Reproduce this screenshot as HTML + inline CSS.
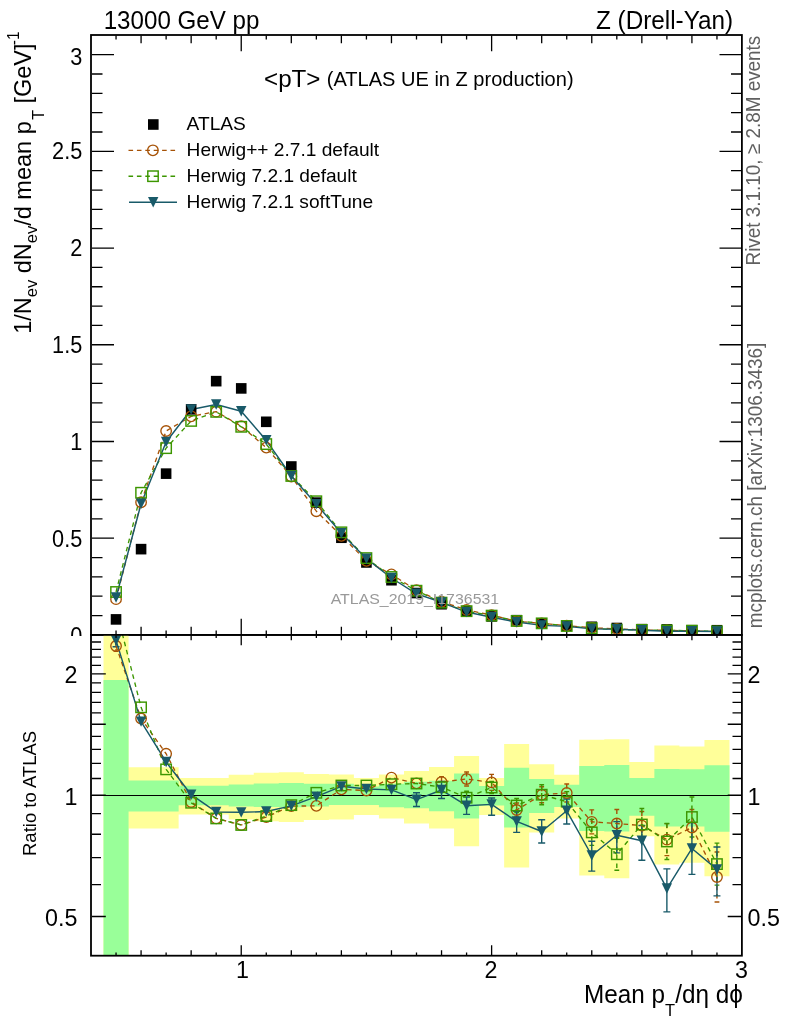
<!DOCTYPE html>
<html><head><meta charset="utf-8"><title>plot</title>
<style>html,body{margin:0;padding:0;background:#fff;overflow:hidden}svg{display:block}</style>
</head><body>
<svg width="786" height="1024" viewBox="0 0 786 1024" font-family="Liberation Sans, Arial, Helvetica, sans-serif">
<rect x="0" y="0" width="786" height="1024" fill="#fff"/>
<defs><clipPath id="cu"><rect x="91" y="35" width="651" height="599.9"/></clipPath><clipPath id="cl"><rect x="91" y="634.9" width="651" height="320.8"/></clipPath></defs>
<path d="M92,615.56h10.5M741.5,615.56h-10.5 M92,596.22h10.5M741.5,596.22h-10.5 M92,576.87h10.5M741.5,576.87h-10.5 M92,557.53h10.5M741.5,557.53h-10.5 M92,538.19h22M741.5,538.19h-22 M92,518.85h10.5M741.5,518.85h-10.5 M92,499.51h10.5M741.5,499.51h-10.5 M92,480.16h10.5M741.5,480.16h-10.5 M92,460.82h10.5M741.5,460.82h-10.5 M92,441.48h22M741.5,441.48h-22 M92,422.14h10.5M741.5,422.14h-10.5 M92,402.80h10.5M741.5,402.80h-10.5 M92,383.45h10.5M741.5,383.45h-10.5 M92,364.11h10.5M741.5,364.11h-10.5 M92,344.77h22M741.5,344.77h-22 M92,325.43h10.5M741.5,325.43h-10.5 M92,306.09h10.5M741.5,306.09h-10.5 M92,286.74h10.5M741.5,286.74h-10.5 M92,267.40h10.5M741.5,267.40h-10.5 M92,248.06h22M741.5,248.06h-22 M92,228.72h10.5M741.5,228.72h-10.5 M92,209.38h10.5M741.5,209.38h-10.5 M92,190.03h10.5M741.5,190.03h-10.5 M92,170.69h10.5M741.5,170.69h-10.5 M92,151.35h22M741.5,151.35h-22 M92,132.01h10.5M741.5,132.01h-10.5 M92,112.67h10.5M741.5,112.67h-10.5 M92,93.32h10.5M741.5,93.32h-10.5 M92,73.98h10.5M741.5,73.98h-10.5 M92,54.64h22M741.5,54.64h-22 M116.04,35.5v4.0M116.04,634.5v-4.0 M141.08,35.5v7.8M141.08,634.5v-7.8 M166.12,35.5v4.0M166.12,634.5v-4.0 M191.15,35.5v7.8M191.15,634.5v-7.8 M216.19,35.5v4.0M216.19,634.5v-4.0 M241.23,35.5v15.8M241.23,634.5v-15.8 M266.27,35.5v4.0M266.27,634.5v-4.0 M291.31,35.5v7.8M291.31,634.5v-7.8 M316.35,35.5v4.0M316.35,634.5v-4.0 M341.38,35.5v7.8M341.38,634.5v-7.8 M366.42,35.5v4.0M366.42,634.5v-4.0 M391.46,35.5v7.8M391.46,634.5v-7.8 M416.50,35.5v4.0M416.50,634.5v-4.0 M441.54,35.5v7.8M441.54,634.5v-7.8 M466.58,35.5v4.0M466.58,634.5v-4.0 M491.62,35.5v15.8M491.62,634.5v-15.8 M516.65,35.5v4.0M516.65,634.5v-4.0 M541.69,35.5v7.8M541.69,634.5v-7.8 M566.73,35.5v4.0M566.73,634.5v-4.0 M591.77,35.5v7.8M591.77,634.5v-7.8 M616.81,35.5v4.0M616.81,634.5v-4.0 M641.85,35.5v7.8M641.85,634.5v-7.8 M666.88,35.5v4.0M666.88,634.5v-4.0 M691.92,35.5v7.8M691.92,634.5v-7.8 M716.96,35.5v4.0M716.96,634.5v-4.0" stroke="#000" stroke-width="1.3" fill="none"/>
<g clip-path="url(#cu)">
<path d="M116.04,599.15 L141.08,502.22 L166.12,430.97 L191.15,416.30 L216.19,411.66 L241.23,426.15 L266.27,447.58 L291.31,476.54 L316.35,511.20 L341.38,535.82 L366.42,560.80 L391.46,574.43 L416.50,590.21 L441.54,601.69 L466.58,609.90 L491.62,615.06 L516.65,621.29 L541.69,623.35 L566.73,625.58 L591.77,627.79 L616.81,628.87 L641.85,629.92 L666.88,630.40 L691.92,630.84 L716.96,631.60" fill="none" stroke="#a65206" stroke-width="1.35" stroke-dasharray="4.6 3.8" stroke-linejoin="round"/>
<path d="M116.04,592.00 L141.08,492.76 L166.12,448.16 L191.15,420.93 L216.19,411.86 L241.23,426.80 L266.27,444.10 L291.31,475.96 L316.35,501.25 L341.38,532.34 L366.42,558.10 L391.46,577.00 L416.50,590.71 L441.54,602.62 L466.58,611.19 L491.62,615.60 L516.65,620.96 L541.69,623.35 L566.73,625.98 L591.77,628.14 L616.81,629.68 L641.85,629.89 L666.88,630.44 L691.92,630.66 L716.96,631.42" fill="none" stroke="#3c9600" stroke-width="1.35" stroke-dasharray="4.6 3.8" stroke-linejoin="round"/>
<path d="M116.04,597.50 L141.08,503.76 L166.12,441.98 L191.15,409.54 L216.19,404.52 L241.23,411.28 L266.27,440.30 L291.31,475.96 L316.35,504.15 L341.38,533.21 L366.42,558.70 L391.46,578.00 L416.50,593.80 L441.54,602.43 L466.58,612.08 L491.62,617.28 L516.65,622.08 L541.69,625.35 L566.73,626.38 L591.77,628.86 L616.81,629.19 L641.85,630.25 L666.88,631.25 L691.92,631.19 L716.96,631.49" fill="none" stroke="#195a69" stroke-width="1.45" stroke-linejoin="round"/>
<rect x="110.74" y="614.10" width="10.6" height="10.6" fill="#000"/>
<rect x="135.78" y="543.84" width="10.6" height="10.6" fill="#000"/>
<rect x="160.82" y="468.34" width="10.6" height="10.6" fill="#000"/>
<rect x="185.85" y="404.05" width="10.6" height="10.6" fill="#000"/>
<rect x="210.89" y="375.86" width="10.6" height="10.6" fill="#000"/>
<rect x="235.93" y="383.10" width="10.6" height="10.6" fill="#000"/>
<rect x="260.97" y="416.50" width="10.6" height="10.6" fill="#000"/>
<rect x="286.01" y="461.20" width="10.6" height="10.6" fill="#000"/>
<rect x="311.05" y="497.31" width="10.6" height="10.6" fill="#000"/>
<rect x="336.08" y="532.45" width="10.6" height="10.6" fill="#000"/>
<rect x="361.12" y="557.16" width="10.6" height="10.6" fill="#000"/>
<rect x="386.16" y="574.92" width="10.6" height="10.6" fill="#000"/>
<rect x="411.20" y="587.74" width="10.6" height="10.6" fill="#000"/>
<rect x="436.24" y="598.94" width="10.6" height="10.6" fill="#000"/>
<rect x="461.28" y="605.82" width="10.6" height="10.6" fill="#000"/>
<rect x="486.32" y="611.11" width="10.6" height="10.6" fill="#000"/>
<rect x="511.35" y="614.89" width="10.6" height="10.6" fill="#000"/>
<rect x="536.39" y="618.10" width="10.6" height="10.6" fill="#000"/>
<rect x="561.43" y="620.39" width="10.6" height="10.6" fill="#000"/>
<rect x="586.47" y="621.49" width="10.6" height="10.6" fill="#000"/>
<rect x="611.51" y="622.69" width="10.6" height="10.6" fill="#000"/>
<rect x="636.55" y="623.87" width="10.6" height="10.6" fill="#000"/>
<rect x="661.58" y="624.10" width="10.6" height="10.6" fill="#000"/>
<rect x="686.62" y="624.93" width="10.6" height="10.6" fill="#000"/>
<rect x="711.66" y="624.93" width="10.6" height="10.6" fill="#000"/>
<circle cx="116.04" cy="599.15" r="5.25" fill="none" stroke="#a65206" stroke-width="1.35"/>
<circle cx="141.08" cy="502.22" r="5.25" fill="none" stroke="#a65206" stroke-width="1.35"/>
<circle cx="166.12" cy="430.97" r="5.25" fill="none" stroke="#a65206" stroke-width="1.35"/>
<circle cx="191.15" cy="416.30" r="5.25" fill="none" stroke="#a65206" stroke-width="1.35"/>
<circle cx="216.19" cy="411.66" r="5.25" fill="none" stroke="#a65206" stroke-width="1.35"/>
<circle cx="241.23" cy="426.15" r="5.25" fill="none" stroke="#a65206" stroke-width="1.35"/>
<circle cx="266.27" cy="447.58" r="5.25" fill="none" stroke="#a65206" stroke-width="1.35"/>
<circle cx="291.31" cy="476.54" r="5.25" fill="none" stroke="#a65206" stroke-width="1.35"/>
<circle cx="316.35" cy="511.20" r="5.25" fill="none" stroke="#a65206" stroke-width="1.35"/>
<circle cx="341.38" cy="535.82" r="5.25" fill="none" stroke="#a65206" stroke-width="1.35"/>
<circle cx="366.42" cy="560.80" r="5.25" fill="none" stroke="#a65206" stroke-width="1.35"/>
<circle cx="391.46" cy="574.43" r="5.25" fill="none" stroke="#a65206" stroke-width="1.35"/>
<circle cx="416.50" cy="590.21" r="5.25" fill="none" stroke="#a65206" stroke-width="1.35"/>
<circle cx="441.54" cy="601.69" r="5.25" fill="none" stroke="#a65206" stroke-width="1.35"/>
<circle cx="466.58" cy="609.90" r="5.25" fill="none" stroke="#a65206" stroke-width="1.35"/>
<circle cx="491.62" cy="615.06" r="5.25" fill="none" stroke="#a65206" stroke-width="1.35"/>
<circle cx="516.65" cy="621.29" r="5.25" fill="none" stroke="#a65206" stroke-width="1.35"/>
<circle cx="541.69" cy="623.35" r="5.25" fill="none" stroke="#a65206" stroke-width="1.35"/>
<circle cx="566.73" cy="625.58" r="5.25" fill="none" stroke="#a65206" stroke-width="1.35"/>
<circle cx="591.77" cy="627.79" r="5.25" fill="none" stroke="#a65206" stroke-width="1.35"/>
<circle cx="616.81" cy="628.87" r="5.25" fill="none" stroke="#a65206" stroke-width="1.35"/>
<circle cx="641.85" cy="629.92" r="5.25" fill="none" stroke="#a65206" stroke-width="1.35"/>
<circle cx="666.88" cy="630.40" r="5.25" fill="none" stroke="#a65206" stroke-width="1.35"/>
<circle cx="691.92" cy="630.84" r="5.25" fill="none" stroke="#a65206" stroke-width="1.35"/>
<circle cx="716.96" cy="631.60" r="5.25" fill="none" stroke="#a65206" stroke-width="1.35"/>
<rect x="110.84" y="586.80" width="10.4" height="10.4" fill="none" stroke="#3c9600" stroke-width="1.45"/>
<rect x="135.88" y="487.56" width="10.4" height="10.4" fill="none" stroke="#3c9600" stroke-width="1.45"/>
<rect x="160.92" y="442.96" width="10.4" height="10.4" fill="none" stroke="#3c9600" stroke-width="1.45"/>
<rect x="185.95" y="415.73" width="10.4" height="10.4" fill="none" stroke="#3c9600" stroke-width="1.45"/>
<rect x="210.99" y="406.66" width="10.4" height="10.4" fill="none" stroke="#3c9600" stroke-width="1.45"/>
<rect x="236.03" y="421.60" width="10.4" height="10.4" fill="none" stroke="#3c9600" stroke-width="1.45"/>
<rect x="261.07" y="438.90" width="10.4" height="10.4" fill="none" stroke="#3c9600" stroke-width="1.45"/>
<rect x="286.11" y="470.76" width="10.4" height="10.4" fill="none" stroke="#3c9600" stroke-width="1.45"/>
<rect x="311.15" y="496.05" width="10.4" height="10.4" fill="none" stroke="#3c9600" stroke-width="1.45"/>
<rect x="336.18" y="527.14" width="10.4" height="10.4" fill="none" stroke="#3c9600" stroke-width="1.45"/>
<rect x="361.22" y="552.90" width="10.4" height="10.4" fill="none" stroke="#3c9600" stroke-width="1.45"/>
<rect x="386.26" y="571.80" width="10.4" height="10.4" fill="none" stroke="#3c9600" stroke-width="1.45"/>
<rect x="411.30" y="585.51" width="10.4" height="10.4" fill="none" stroke="#3c9600" stroke-width="1.45"/>
<rect x="436.34" y="597.42" width="10.4" height="10.4" fill="none" stroke="#3c9600" stroke-width="1.45"/>
<rect x="461.38" y="605.99" width="10.4" height="10.4" fill="none" stroke="#3c9600" stroke-width="1.45"/>
<rect x="486.42" y="610.40" width="10.4" height="10.4" fill="none" stroke="#3c9600" stroke-width="1.45"/>
<rect x="511.45" y="615.76" width="10.4" height="10.4" fill="none" stroke="#3c9600" stroke-width="1.45"/>
<rect x="536.49" y="618.15" width="10.4" height="10.4" fill="none" stroke="#3c9600" stroke-width="1.45"/>
<rect x="561.53" y="620.78" width="10.4" height="10.4" fill="none" stroke="#3c9600" stroke-width="1.45"/>
<rect x="586.57" y="622.94" width="10.4" height="10.4" fill="none" stroke="#3c9600" stroke-width="1.45"/>
<rect x="611.61" y="624.48" width="10.4" height="10.4" fill="none" stroke="#3c9600" stroke-width="1.45"/>
<rect x="636.65" y="624.69" width="10.4" height="10.4" fill="none" stroke="#3c9600" stroke-width="1.45"/>
<rect x="661.68" y="625.24" width="10.4" height="10.4" fill="none" stroke="#3c9600" stroke-width="1.45"/>
<rect x="686.72" y="625.46" width="10.4" height="10.4" fill="none" stroke="#3c9600" stroke-width="1.45"/>
<rect x="711.76" y="626.22" width="10.4" height="10.4" fill="none" stroke="#3c9600" stroke-width="1.45"/>
<path d="M110.84,592.30H121.24L116.04,602.70Z" fill="#195a69"/>
<path d="M135.88,498.56H146.28L141.08,508.96Z" fill="#195a69"/>
<path d="M160.92,436.78H171.32L166.12,447.18Z" fill="#195a69"/>
<path d="M185.95,404.34H196.35L191.15,414.74Z" fill="#195a69"/>
<path d="M210.99,399.32H221.39L216.19,409.72Z" fill="#195a69"/>
<path d="M236.03,406.08H246.43L241.23,416.48Z" fill="#195a69"/>
<path d="M261.07,435.10H271.47L266.27,445.50Z" fill="#195a69"/>
<path d="M286.11,470.76H296.51L291.31,481.16Z" fill="#195a69"/>
<path d="M311.15,498.95H321.55L316.35,509.35Z" fill="#195a69"/>
<path d="M336.18,528.01H346.58L341.38,538.41Z" fill="#195a69"/>
<path d="M361.22,553.50H371.62L366.42,563.90Z" fill="#195a69"/>
<path d="M386.26,572.80H396.66L391.46,583.20Z" fill="#195a69"/>
<path d="M411.30,588.60H421.70L416.50,599.00Z" fill="#195a69"/>
<path d="M436.34,597.23H446.74L441.54,607.63Z" fill="#195a69"/>
<path d="M461.38,606.88H471.78L466.58,617.28Z" fill="#195a69"/>
<path d="M486.42,612.08H496.82L491.62,622.48Z" fill="#195a69"/>
<path d="M511.45,616.88H521.85L516.65,627.28Z" fill="#195a69"/>
<path d="M536.49,620.15H546.89L541.69,630.55Z" fill="#195a69"/>
<path d="M561.53,621.18H571.93L566.73,631.58Z" fill="#195a69"/>
<path d="M586.57,623.66H596.97L591.77,634.06Z" fill="#195a69"/>
<path d="M611.61,623.99H622.01L616.81,634.39Z" fill="#195a69"/>
<path d="M636.65,625.05H647.05L641.85,635.45Z" fill="#195a69"/>
<path d="M661.68,626.05H672.08L666.88,636.45Z" fill="#195a69"/>
<path d="M686.72,625.99H697.12L691.92,636.39Z" fill="#195a69"/>
<path d="M711.76,626.29H722.16L716.96,636.69Z" fill="#195a69"/>
</g>
<text transform="translate(414.90,604.00) scale(1,0.97)" font-size="15.9" text-anchor="middle" fill="#999">ATLAS_2019_I1736531</text>
<rect x="91" y="35" width="650.9" height="599.9" fill="none" stroke="#000" stroke-width="1.8"/>
<text transform="translate(82.30,64.50) scale(1,1.06)" font-size="21.7" text-anchor="end">3</text>
<text transform="translate(82.30,159.30) scale(1,1.06)" font-size="21.7" text-anchor="end">2.5</text>
<text transform="translate(82.30,255.70) scale(1,1.06)" font-size="21.7" text-anchor="end">2</text>
<text transform="translate(82.30,353.10) scale(1,1.06)" font-size="21.7" text-anchor="end">1.5</text>
<text transform="translate(82.30,449.70) scale(1,1.06)" font-size="21.7" text-anchor="end">1</text>
<text transform="translate(82.30,547.40) scale(1,1.06)" font-size="21.7" text-anchor="end">0.5</text>
<text transform="translate(82.30,644.40) scale(1,1.06)" font-size="21.7" text-anchor="end">0</text>
<rect x="0" y="636" width="786" height="388" fill="#fff"/>
<g clip-path="url(#cl)">
<path d="M103.52,600.00 L128.56,600.00 L128.56,767.30 L153.60,767.30 L153.60,767.30 L178.63,767.30 L178.63,778.00 L203.67,778.00 L203.67,778.00 L228.71,778.00 L228.71,774.80 L253.75,774.80 L253.75,772.80 L278.79,772.80 L278.79,772.30 L303.83,772.30 L303.83,774.00 L328.87,774.00 L328.87,774.60 L353.90,774.60 L353.90,778.00 L378.94,778.00 L378.94,774.60 L403.98,774.60 L403.98,771.00 L429.02,771.00 L429.02,766.90 L454.06,766.90 L454.06,755.90 L479.10,755.90 L479.10,778.00 L504.13,778.00 L504.13,744.10 L529.17,744.10 L529.17,764.30 L554.21,764.30 L554.21,774.80 L579.25,774.80 L579.25,739.80 L604.29,739.80 L604.29,739.20 L629.33,739.20 L629.33,762.00 L654.37,762.00 L654.37,745.40 L679.40,745.40 L679.40,746.40 L704.44,746.40 L704.44,740.10 L729.48,740.10 L729.48,876.30 L704.44,876.30 L704.44,862.70 L679.40,862.70 L679.40,864.60 L654.37,864.60 L654.37,836.30 L629.33,836.30 L629.33,878.30 L604.29,878.30 L604.29,875.50 L579.25,875.50 L579.25,818.40 L554.21,818.40 L554.21,832.40 L529.17,832.40 L529.17,867.60 L504.13,867.60 L504.13,815.00 L479.10,815.00 L479.10,846.30 L454.06,846.30 L454.06,828.50 L429.02,828.50 L429.02,823.50 L403.98,823.50 L403.98,818.40 L378.94,818.40 L378.94,815.00 L353.90,815.00 L353.90,819.40 L328.87,819.40 L328.87,820.00 L303.83,820.00 L303.83,822.00 L278.79,822.00 L278.79,821.30 L253.75,821.30 L253.75,819.50 L228.71,819.50 L228.71,814.50 L203.67,814.50 L203.67,814.50 L178.63,814.50 L178.63,828.40 L153.60,828.40 L153.60,828.40 L128.56,828.40 L128.56,1000.00 L103.52,1000.00Z" fill="#ffff99"/>
<path d="M103.52,679.90 L128.56,679.90 L128.56,780.60 L153.60,780.60 L153.60,780.60 L178.63,780.60 L178.63,785.80 L203.67,785.80 L203.67,785.80 L228.71,785.80 L228.71,784.50 L253.75,784.50 L253.75,783.50 L278.79,783.50 L278.79,783.00 L303.83,783.00 L303.83,783.70 L328.87,783.70 L328.87,783.80 L353.90,783.80 L353.90,786.50 L378.94,786.50 L378.94,783.80 L403.98,783.80 L403.98,781.70 L429.02,781.70 L429.02,780.70 L454.06,780.70 L454.06,773.60 L479.10,773.60 L479.10,785.90 L504.13,785.90 L504.13,767.80 L529.17,767.80 L529.17,778.90 L554.21,778.90 L554.21,784.70 L579.25,784.70 L579.25,766.00 L604.29,766.00 L604.29,765.00 L629.33,765.00 L629.33,778.00 L654.37,778.00 L654.37,768.90 L679.40,768.90 L679.40,769.20 L704.44,769.20 L704.44,765.30 L729.48,765.30 L729.48,831.80 L704.44,831.80 L704.44,826.50 L679.40,826.50 L679.40,826.50 L654.37,826.50 L654.37,815.80 L629.33,815.80 L629.33,831.40 L604.29,831.40 L604.29,831.00 L579.25,831.00 L579.25,807.00 L554.21,807.00 L554.21,813.10 L529.17,813.10 L529.17,827.50 L504.13,827.50 L504.13,805.40 L479.10,805.40 L479.10,818.50 L454.06,818.50 L454.06,811.20 L429.02,811.20 L429.02,808.20 L403.98,808.20 L403.98,807.20 L378.94,807.20 L378.94,805.10 L353.90,805.10 L353.90,805.10 L328.87,805.10 L328.87,806.50 L303.83,806.50 L303.83,807.30 L278.79,807.30 L278.79,807.00 L253.75,807.00 L253.75,806.60 L228.71,806.60 L228.71,805.20 L203.67,805.20 L203.67,805.20 L178.63,805.20 L178.63,811.50 L153.60,811.50 L153.60,811.50 L128.56,811.50 L128.56,1000.00 L103.52,1000.00Z" fill="#99ff99"/>
<path d="M91,795.5H742" stroke="#000" stroke-width="1.15"/>
<path d="M116.04,640.56V651.36" stroke="#a65206" stroke-width="1.4" fill="none" stroke-dasharray="4.6 3.8"/><path d="M113.64,640.56h4.8M113.64,651.36h4.8" stroke="#a65206" stroke-width="1.4" fill="none"/>












<path d="M441.54,776.66V787.46" stroke="#a65206" stroke-width="1.4" fill="none" stroke-dasharray="4.6 3.8"/><path d="M439.14,776.66h4.8M439.14,787.46h4.8" stroke="#a65206" stroke-width="1.4" fill="none"/>
<path d="M466.58,772.00V786.00" stroke="#a65206" stroke-width="1.4" fill="none" stroke-dasharray="4.6 3.8"/><path d="M464.18,772.00h4.8M464.18,786.00h4.8" stroke="#a65206" stroke-width="1.4" fill="none"/>
<path d="M491.62,774.39V790.39" stroke="#a65206" stroke-width="1.4" fill="none" stroke-dasharray="4.6 3.8"/><path d="M489.22,774.39h4.8M489.22,790.39h4.8" stroke="#a65206" stroke-width="1.4" fill="none"/>
<path d="M516.65,803.03V817.03" stroke="#a65206" stroke-width="1.4" fill="none" stroke-dasharray="4.6 3.8"/><path d="M514.25,803.03h4.8M514.25,817.03h4.8" stroke="#a65206" stroke-width="1.4" fill="none"/>
<path d="M541.69,786.70V802.70" stroke="#a65206" stroke-width="1.4" fill="none" stroke-dasharray="4.6 3.8"/><path d="M539.29,786.70h4.8M539.29,802.70h4.8" stroke="#a65206" stroke-width="1.4" fill="none"/>
<path d="M566.73,783.96V801.96" stroke="#a65206" stroke-width="1.4" fill="none" stroke-dasharray="4.6 3.8"/><path d="M564.33,783.96h4.8M564.33,801.96h4.8" stroke="#a65206" stroke-width="1.4" fill="none"/>
<path d="M591.77,809.86V833.86" stroke="#a65206" stroke-width="1.4" fill="none" stroke-dasharray="4.6 3.8"/><path d="M589.37,809.86h4.8M589.37,833.86h4.8" stroke="#a65206" stroke-width="1.4" fill="none"/>
<path d="M616.81,809.50V837.50" stroke="#a65206" stroke-width="1.4" fill="none" stroke-dasharray="4.6 3.8"/><path d="M614.41,809.50h4.8M614.41,837.50h4.8" stroke="#a65206" stroke-width="1.4" fill="none"/>
<path d="M641.85,811.57V839.57" stroke="#a65206" stroke-width="1.4" fill="none" stroke-dasharray="4.6 3.8"/><path d="M639.45,811.57h4.8M639.45,839.57h4.8" stroke="#a65206" stroke-width="1.4" fill="none"/>
<path d="M666.88,823.66V855.66" stroke="#a65206" stroke-width="1.4" fill="none" stroke-dasharray="4.6 3.8"/><path d="M664.48,823.66h4.8M664.48,855.66h4.8" stroke="#a65206" stroke-width="1.4" fill="none"/>
<path d="M691.92,809.46V845.46" stroke="#a65206" stroke-width="1.4" fill="none" stroke-dasharray="4.6 3.8"/><path d="M689.52,809.46h4.8M689.52,845.46h4.8" stroke="#a65206" stroke-width="1.4" fill="none"/>
<path d="M716.96,852.01V902.01" stroke="#a65206" stroke-width="1.4" fill="none" stroke-dasharray="4.6 3.8"/><path d="M714.56,852.01h4.8M714.56,902.01h4.8" stroke="#a65206" stroke-width="1.4" fill="none"/>














<path d="M466.58,791.30V804.10" stroke="#3c9600" stroke-width="1.4" fill="none" stroke-dasharray="4.6 3.8"/><path d="M464.18,791.30h4.8M464.18,804.10h4.8" stroke="#3c9600" stroke-width="1.4" fill="none"/>
<path d="M491.62,781.51V793.51" stroke="#3c9600" stroke-width="1.4" fill="none" stroke-dasharray="4.6 3.8"/><path d="M489.22,781.51h4.8M489.22,793.51h4.8" stroke="#3c9600" stroke-width="1.4" fill="none"/>
<path d="M516.65,798.51V812.51" stroke="#3c9600" stroke-width="1.4" fill="none" stroke-dasharray="4.6 3.8"/><path d="M514.25,798.51h4.8M514.25,812.51h4.8" stroke="#3c9600" stroke-width="1.4" fill="none"/>
<path d="M541.69,784.70V804.70" stroke="#3c9600" stroke-width="1.4" fill="none" stroke-dasharray="4.6 3.8"/><path d="M539.29,784.70h4.8M539.29,804.70h4.8" stroke="#3c9600" stroke-width="1.4" fill="none"/>
<path d="M566.73,791.65V811.65" stroke="#3c9600" stroke-width="1.4" fill="none" stroke-dasharray="4.6 3.8"/><path d="M564.33,791.65h4.8M564.33,811.65h4.8" stroke="#3c9600" stroke-width="1.4" fill="none"/>
<path d="M591.77,819.37V845.37" stroke="#3c9600" stroke-width="1.4" fill="none" stroke-dasharray="4.6 3.8"/><path d="M589.37,819.37h4.8M589.37,845.37h4.8" stroke="#3c9600" stroke-width="1.4" fill="none"/>
<path d="M616.81,838.25V870.25" stroke="#3c9600" stroke-width="1.4" fill="none" stroke-dasharray="4.6 3.8"/><path d="M614.41,838.25h4.8M614.41,870.25h4.8" stroke="#3c9600" stroke-width="1.4" fill="none"/>
<path d="M641.85,808.53V840.53" stroke="#3c9600" stroke-width="1.4" fill="none" stroke-dasharray="4.6 3.8"/><path d="M639.45,808.53h4.8M639.45,840.53h4.8" stroke="#3c9600" stroke-width="1.4" fill="none"/>
<path d="M666.88,823.48V859.48" stroke="#3c9600" stroke-width="1.4" fill="none" stroke-dasharray="4.6 3.8"/><path d="M664.48,823.48h4.8M664.48,859.48h4.8" stroke="#3c9600" stroke-width="1.4" fill="none"/>
<path d="M691.92,797.03V837.03" stroke="#3c9600" stroke-width="1.4" fill="none" stroke-dasharray="4.6 3.8"/><path d="M689.52,797.03h4.8M689.52,837.03h4.8" stroke="#3c9600" stroke-width="1.4" fill="none"/>
<path d="M716.96,843.09V885.09" stroke="#3c9600" stroke-width="1.4" fill="none" stroke-dasharray="4.6 3.8"/><path d="M714.56,843.09h4.8M714.56,885.09h4.8" stroke="#3c9600" stroke-width="1.4" fill="none"/>
<path d="M116.04,633.80V646.80M112.54,633.80h7M112.54,646.80h7" stroke="#195a69" stroke-width="1.4" fill="none"/>
<path d="M416.50,792.70V806.50M413.00,792.70h7M413.00,806.50h7" stroke="#195a69" stroke-width="1.4" fill="none"/>
<path d="M441.54,781.50V798.50M438.04,781.50h7M438.04,798.50h7" stroke="#195a69" stroke-width="1.4" fill="none"/>
<path d="M466.58,797.00V814.40M463.08,797.00h7M463.08,814.40h7" stroke="#195a69" stroke-width="1.4" fill="none"/>
<path d="M491.62,798.00V815.30M488.12,798.00h7M488.12,815.30h7" stroke="#195a69" stroke-width="1.4" fill="none"/>
<path d="M516.65,811.40V832.40M513.15,811.40h7M513.15,832.40h7" stroke="#195a69" stroke-width="1.4" fill="none"/>
<path d="M541.69,819.80V843.00M538.19,819.80h7M538.19,843.00h7" stroke="#195a69" stroke-width="1.4" fill="none"/>
<path d="M566.73,799.00V824.00M563.23,799.00h7M563.23,824.00h7" stroke="#195a69" stroke-width="1.4" fill="none"/>
<path d="M591.77,841.20V871.10M588.27,841.20h7M588.27,871.10h7" stroke="#195a69" stroke-width="1.4" fill="none"/>
<path d="M616.81,821.60V852.90M613.31,821.60h7M613.31,852.90h7" stroke="#195a69" stroke-width="1.4" fill="none"/>
<path d="M641.85,825.50V860.30M638.35,825.50h7M638.35,860.30h7" stroke="#195a69" stroke-width="1.4" fill="none"/>
<path d="M666.88,868.90V911.90M663.38,868.90h7M663.38,911.90h7" stroke="#195a69" stroke-width="1.4" fill="none"/>
<path d="M691.92,822.60V874.40M688.42,822.60h7M688.42,874.40h7" stroke="#195a69" stroke-width="1.4" fill="none"/>
<path d="M716.96,847.00V895.90M713.46,847.00h7M713.46,895.90h7" stroke="#195a69" stroke-width="1.4" fill="none"/>
<path d="M116.04,645.96 L141.08,718.52 L166.12,753.75 L191.15,802.01 L216.19,818.43 L241.23,824.95 L266.27,817.03 L291.31,806.07 L316.35,805.88 L341.38,789.36 L366.42,790.56 L391.46,777.57 L416.50,783.37 L441.54,782.06 L466.58,779.00 L491.62,782.39 L516.65,810.03 L541.69,794.70 L566.73,792.96 L591.77,821.86 L616.81,823.50 L641.85,825.57 L666.88,839.66 L691.92,827.46 L716.96,877.01" fill="none" stroke="#a65206" stroke-width="1.35" stroke-dasharray="4.6 3.8" stroke-linejoin="round"/>
<path d="M116.04,609.22 L141.08,707.34 L166.12,769.36 L191.15,802.74 L216.19,818.43 L241.23,824.95 L266.27,816.04 L291.31,805.14 L316.35,792.79 L341.38,785.51 L366.42,785.51 L391.46,784.19 L416.50,783.53 L441.54,787.18 L466.58,797.70 L491.62,787.51 L516.65,805.51 L541.69,794.70 L566.73,801.65 L591.77,832.37 L616.81,854.25 L641.85,824.53 L666.88,841.48 L691.92,817.03 L716.96,864.09" fill="none" stroke="#3c9600" stroke-width="1.35" stroke-dasharray="4.6 3.8" stroke-linejoin="round"/>
<path d="M116.04,640.36 L141.08,721.60 L166.12,761.96 L191.15,794.70 L216.19,811.95 L241.23,812.33 L266.27,811.56 L291.31,805.88 L316.35,796.63 L341.38,786.34 L366.42,789.03 L391.46,789.87 L416.50,799.66 L441.54,790.04 L466.58,805.70 L491.62,804.40 L516.65,821.45 L541.69,831.50 L566.73,810.79 L591.77,855.48 L616.81,835.21 L641.85,840.80 L666.88,888.56 L691.92,848.46 L716.96,869.36" fill="none" stroke="#195a69" stroke-width="1.45" stroke-linejoin="round"/>
<circle cx="116.04" cy="645.96" r="5.25" fill="none" stroke="#a65206" stroke-width="1.35"/>
<circle cx="141.08" cy="718.52" r="5.25" fill="none" stroke="#a65206" stroke-width="1.35"/>
<circle cx="166.12" cy="753.75" r="5.25" fill="none" stroke="#a65206" stroke-width="1.35"/>
<circle cx="191.15" cy="802.01" r="5.25" fill="none" stroke="#a65206" stroke-width="1.35"/>
<circle cx="216.19" cy="818.43" r="5.25" fill="none" stroke="#a65206" stroke-width="1.35"/>
<circle cx="241.23" cy="824.95" r="5.25" fill="none" stroke="#a65206" stroke-width="1.35"/>
<circle cx="266.27" cy="817.03" r="5.25" fill="none" stroke="#a65206" stroke-width="1.35"/>
<circle cx="291.31" cy="806.07" r="5.25" fill="none" stroke="#a65206" stroke-width="1.35"/>
<circle cx="316.35" cy="805.88" r="5.25" fill="none" stroke="#a65206" stroke-width="1.35"/>
<circle cx="341.38" cy="789.36" r="5.25" fill="none" stroke="#a65206" stroke-width="1.35"/>
<circle cx="366.42" cy="790.56" r="5.25" fill="none" stroke="#a65206" stroke-width="1.35"/>
<circle cx="391.46" cy="777.57" r="5.25" fill="none" stroke="#a65206" stroke-width="1.35"/>
<circle cx="416.50" cy="783.37" r="5.25" fill="none" stroke="#a65206" stroke-width="1.35"/>
<circle cx="441.54" cy="782.06" r="5.25" fill="none" stroke="#a65206" stroke-width="1.35"/>
<circle cx="466.58" cy="779.00" r="5.25" fill="none" stroke="#a65206" stroke-width="1.35"/>
<circle cx="491.62" cy="782.39" r="5.25" fill="none" stroke="#a65206" stroke-width="1.35"/>
<circle cx="516.65" cy="810.03" r="5.25" fill="none" stroke="#a65206" stroke-width="1.35"/>
<circle cx="541.69" cy="794.70" r="5.25" fill="none" stroke="#a65206" stroke-width="1.35"/>
<circle cx="566.73" cy="792.96" r="5.25" fill="none" stroke="#a65206" stroke-width="1.35"/>
<circle cx="591.77" cy="821.86" r="5.25" fill="none" stroke="#a65206" stroke-width="1.35"/>
<circle cx="616.81" cy="823.50" r="5.25" fill="none" stroke="#a65206" stroke-width="1.35"/>
<circle cx="641.85" cy="825.57" r="5.25" fill="none" stroke="#a65206" stroke-width="1.35"/>
<circle cx="666.88" cy="839.66" r="5.25" fill="none" stroke="#a65206" stroke-width="1.35"/>
<circle cx="691.92" cy="827.46" r="5.25" fill="none" stroke="#a65206" stroke-width="1.35"/>
<circle cx="716.96" cy="877.01" r="5.25" fill="none" stroke="#a65206" stroke-width="1.35"/>
<rect x="110.84" y="604.02" width="10.4" height="10.4" fill="none" stroke="#3c9600" stroke-width="1.45"/>
<rect x="135.88" y="702.14" width="10.4" height="10.4" fill="none" stroke="#3c9600" stroke-width="1.45"/>
<rect x="160.92" y="764.16" width="10.4" height="10.4" fill="none" stroke="#3c9600" stroke-width="1.45"/>
<rect x="185.95" y="797.54" width="10.4" height="10.4" fill="none" stroke="#3c9600" stroke-width="1.45"/>
<rect x="210.99" y="813.23" width="10.4" height="10.4" fill="none" stroke="#3c9600" stroke-width="1.45"/>
<rect x="236.03" y="819.75" width="10.4" height="10.4" fill="none" stroke="#3c9600" stroke-width="1.45"/>
<rect x="261.07" y="810.84" width="10.4" height="10.4" fill="none" stroke="#3c9600" stroke-width="1.45"/>
<rect x="286.11" y="799.94" width="10.4" height="10.4" fill="none" stroke="#3c9600" stroke-width="1.45"/>
<rect x="311.15" y="787.59" width="10.4" height="10.4" fill="none" stroke="#3c9600" stroke-width="1.45"/>
<rect x="336.18" y="780.31" width="10.4" height="10.4" fill="none" stroke="#3c9600" stroke-width="1.45"/>
<rect x="361.22" y="780.31" width="10.4" height="10.4" fill="none" stroke="#3c9600" stroke-width="1.45"/>
<rect x="386.26" y="778.99" width="10.4" height="10.4" fill="none" stroke="#3c9600" stroke-width="1.45"/>
<rect x="411.30" y="778.33" width="10.4" height="10.4" fill="none" stroke="#3c9600" stroke-width="1.45"/>
<rect x="436.34" y="781.98" width="10.4" height="10.4" fill="none" stroke="#3c9600" stroke-width="1.45"/>
<rect x="461.38" y="792.50" width="10.4" height="10.4" fill="none" stroke="#3c9600" stroke-width="1.45"/>
<rect x="486.42" y="782.31" width="10.4" height="10.4" fill="none" stroke="#3c9600" stroke-width="1.45"/>
<rect x="511.45" y="800.31" width="10.4" height="10.4" fill="none" stroke="#3c9600" stroke-width="1.45"/>
<rect x="536.49" y="789.50" width="10.4" height="10.4" fill="none" stroke="#3c9600" stroke-width="1.45"/>
<rect x="561.53" y="796.45" width="10.4" height="10.4" fill="none" stroke="#3c9600" stroke-width="1.45"/>
<rect x="586.57" y="827.17" width="10.4" height="10.4" fill="none" stroke="#3c9600" stroke-width="1.45"/>
<rect x="611.61" y="849.05" width="10.4" height="10.4" fill="none" stroke="#3c9600" stroke-width="1.45"/>
<rect x="636.65" y="819.33" width="10.4" height="10.4" fill="none" stroke="#3c9600" stroke-width="1.45"/>
<rect x="661.68" y="836.28" width="10.4" height="10.4" fill="none" stroke="#3c9600" stroke-width="1.45"/>
<rect x="686.72" y="811.83" width="10.4" height="10.4" fill="none" stroke="#3c9600" stroke-width="1.45"/>
<rect x="711.76" y="858.89" width="10.4" height="10.4" fill="none" stroke="#3c9600" stroke-width="1.45"/>
<path d="M110.84,635.16H121.24L116.04,645.56Z" fill="#195a69"/>
<path d="M135.88,716.40H146.28L141.08,726.80Z" fill="#195a69"/>
<path d="M160.92,756.76H171.32L166.12,767.16Z" fill="#195a69"/>
<path d="M185.95,789.50H196.35L191.15,799.90Z" fill="#195a69"/>
<path d="M210.99,806.75H221.39L216.19,817.15Z" fill="#195a69"/>
<path d="M236.03,807.13H246.43L241.23,817.53Z" fill="#195a69"/>
<path d="M261.07,806.36H271.47L266.27,816.76Z" fill="#195a69"/>
<path d="M286.11,800.68H296.51L291.31,811.08Z" fill="#195a69"/>
<path d="M311.15,791.43H321.55L316.35,801.83Z" fill="#195a69"/>
<path d="M336.18,781.14H346.58L341.38,791.54Z" fill="#195a69"/>
<path d="M361.22,783.83H371.62L366.42,794.23Z" fill="#195a69"/>
<path d="M386.26,784.67H396.66L391.46,795.07Z" fill="#195a69"/>
<path d="M411.30,794.46H421.70L416.50,804.86Z" fill="#195a69"/>
<path d="M436.34,784.84H446.74L441.54,795.24Z" fill="#195a69"/>
<path d="M461.38,800.50H471.78L466.58,810.90Z" fill="#195a69"/>
<path d="M486.42,799.20H496.82L491.62,809.60Z" fill="#195a69"/>
<path d="M511.45,816.25H521.85L516.65,826.65Z" fill="#195a69"/>
<path d="M536.49,826.30H546.89L541.69,836.70Z" fill="#195a69"/>
<path d="M561.53,805.59H571.93L566.73,815.99Z" fill="#195a69"/>
<path d="M586.57,850.28H596.97L591.77,860.68Z" fill="#195a69"/>
<path d="M611.61,830.01H622.01L616.81,840.41Z" fill="#195a69"/>
<path d="M636.65,835.60H647.05L641.85,846.00Z" fill="#195a69"/>
<path d="M661.68,883.36H672.08L666.88,893.76Z" fill="#195a69"/>
<path d="M686.72,843.26H697.12L691.92,853.66Z" fill="#195a69"/>
<path d="M711.76,864.16H722.16L716.96,874.56Z" fill="#195a69"/>
</g>
<path d="M92,916.50h13.8M741.5,916.50h-13.8 M92,884.59h9.0M741.5,884.59h-9.0 M92,857.62h9.0M741.5,857.62h-9.0 M92,834.25h9.0M741.5,834.25h-9.0 M92,813.64h9.0M741.5,813.64h-9.0 M92,795.20h13.8M741.5,795.20h-13.8 M92,778.52h9.0M741.5,778.52h-9.0 M92,763.29h9.0M741.5,763.29h-9.0 M92,749.29h9.0M741.5,749.29h-9.0 M92,736.32h9.0M741.5,736.32h-9.0 M92,724.24h13.8M741.5,724.24h-13.8 M92,712.95h9.0M741.5,712.95h-9.0 M92,702.34h9.0M741.5,702.34h-9.0 M92,692.34h9.0M741.5,692.34h-9.0 M92,682.88h9.0M741.5,682.88h-9.0 M92,673.90h13.8M741.5,673.90h-13.8 M92,665.36h9.0M741.5,665.36h-9.0 M92,657.22h9.0M741.5,657.22h-9.0 M92,649.44h9.0M741.5,649.44h-9.0 M92,641.99h9.0M741.5,641.99h-9.0 M116.04,635.5v2.5M116.04,955v-2.5 M141.08,635.5v4.7M141.08,955v-4.7 M166.12,635.5v2.5M166.12,955v-2.5 M191.15,635.5v4.7M191.15,955v-4.7 M216.19,635.5v2.5M216.19,955v-2.5 M241.23,635.5v9.7M241.23,955v-9.7 M266.27,635.5v2.5M266.27,955v-2.5 M291.31,635.5v4.7M291.31,955v-4.7 M316.35,635.5v2.5M316.35,955v-2.5 M341.38,635.5v4.7M341.38,955v-4.7 M366.42,635.5v2.5M366.42,955v-2.5 M391.46,635.5v4.7M391.46,955v-4.7 M416.50,635.5v2.5M416.50,955v-2.5 M441.54,635.5v4.7M441.54,955v-4.7 M466.58,635.5v2.5M466.58,955v-2.5 M491.62,635.5v9.7M491.62,955v-9.7 M516.65,635.5v2.5M516.65,955v-2.5 M541.69,635.5v4.7M541.69,955v-4.7 M566.73,635.5v2.5M566.73,955v-2.5 M591.77,635.5v4.7M591.77,955v-4.7 M616.81,635.5v2.5M616.81,955v-2.5 M641.85,635.5v4.7M641.85,955v-4.7 M666.88,635.5v2.5M666.88,955v-2.5 M691.92,635.5v4.7M691.92,955v-4.7 M716.96,635.5v2.5M716.96,955v-2.5" stroke="#000" stroke-width="1.3" fill="none"/>
<rect x="91" y="634.9" width="650.9" height="320.8" fill="none" stroke="#000" stroke-width="1.8"/>
<text transform="translate(77.50,683.40) scale(1,1.04)" font-size="23.3" text-anchor="end">2</text>
<text transform="translate(747.60,683.40) scale(1,1.04)" font-size="23.3">2</text>
<text transform="translate(77.50,804.70) scale(1,1.04)" font-size="23.3" text-anchor="end">1</text>
<text transform="translate(747.60,804.70) scale(1,1.04)" font-size="23.3">1</text>
<text transform="translate(77.50,926.00) scale(1,1.04)" font-size="23.3" text-anchor="end">0.5</text>
<text transform="translate(747.60,926.00) scale(1,1.04)" font-size="23.3">0.5</text>
<text transform="translate(242.43,978.10) scale(1,1.04)" font-size="23.3" text-anchor="middle">1</text>
<text transform="translate(491.02,978.10) scale(1,1.04)" font-size="23.3" text-anchor="middle">2</text>
<text transform="translate(741.40,978.10) scale(1,1.04)" font-size="23.3" text-anchor="middle">3</text>
<text transform="translate(103.70,29.40) scale(1,1.035)" font-size="24.15">13000 GeV pp</text>
<text transform="translate(733.20,29.40) scale(1,1.03)" font-size="24.3" text-anchor="end">Z (Drell-Yan)</text>
<text x="264.00" y="86.70" font-size="24.2">&lt;pT&gt;</text>
<text x="326.80" y="86.20" font-size="20.05">(ATLAS UE in Z production)</text>
<rect x="148.00" y="119.20" width="10.6" height="10.6" fill="#000"/>
<path d="M128.5,150.3H175.5" stroke="#a65206" stroke-width="1.35" stroke-dasharray="4.6 3.8"/>
<circle cx="152.90" cy="150.30" r="5.25" fill="none" stroke="#a65206" stroke-width="1.35"/>
<path d="M128.5,176.2H175.5" stroke="#3c9600" stroke-width="1.35" stroke-dasharray="4.6 3.8"/>
<rect x="147.80" y="171.00" width="10.4" height="10.4" fill="none" stroke="#3c9600" stroke-width="1.45"/>
<path d="M129,202.3H177" stroke="#195a69" stroke-width="1.45"/>
<path d="M148.00,197.10H158.40L153.20,207.50Z" fill="#195a69"/>
<text x="186.60" y="129.90" font-size="19.15">ATLAS</text>
<text x="186.60" y="155.70" font-size="19.15">Herwig++ 2.7.1 default</text>
<text x="186.60" y="181.60" font-size="19.15">Herwig 7.2.1 default</text>
<text x="186.60" y="207.70" font-size="19.15">Herwig 7.2.1 softTune</text>
<text transform="translate(30.9,333.8) rotate(-90) scale(1,1.04)" font-size="23.5">1/N<tspan font-size="16.5" dy="6.3">ev</tspan><tspan dy="-6.3"> dN</tspan><tspan font-size="16.5" dy="6.3">ev</tspan><tspan dy="-6.3">/d mean p</tspan><tspan font-size="16.5" dx="1.2" dy="12.5">T</tspan><tspan dy="-12.5"> [GeV]</tspan><tspan font-size="15.5" dx="-1.8" dy="-11.6">-1</tspan></text>
<text transform="translate(36.4,856) rotate(-90)" font-size="18.5">Ratio to ATLAS</text>
<text transform="translate(742.8,1002.7) scale(1,1.055)" font-size="24.3" text-anchor="end">Mean p<tspan font-size="16.5" dy="12.3">T</tspan><tspan dy="-12.3">/dη dϕ</tspan></text>
<text transform="translate(759.8,265.5) rotate(-90) scale(1,1.07)" font-size="18.9" fill="#606060">Rivet 3.1.10, ≥ 2.8M events</text>
<text transform="translate(761.6,628.3) rotate(-90) scale(1,1.07)" font-size="18.9" fill="#606060">mcplots.cern.ch [arXiv:1306.3436]</text>
</svg>
</body></html>
